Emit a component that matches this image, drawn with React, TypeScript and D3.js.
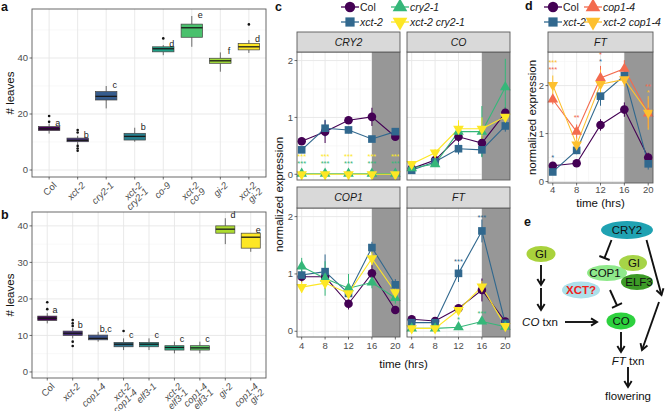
import React from 'react';
import * as d3 from 'd3';

const FONT = "'Liberation Sans', Arial, Helvetica, sans-serif";
const GRID = '#E6E6E6';
const GRID_MINOR = '#F3F3F3';
const BORDER = '#5A5A5A';
const TICKTXT = '#4D4D4D';

// ---------------- panel a ----------------
const catsA = ['Col', 'xct-2', 'cry2-1', 'xct-2 cry2-1', 'co-9', 'xct-2 co-9', 'gi-2', 'xct-2 gi-2'];
const lowA = [13, 9, 22, 10.1, 41, 44, 35.1, 41.8];
const q1A = [14.1, 10.1, 25, 10.7, 42.2, 47.4, 38.1, 42.9];
const medA = [14.7, 10.6, 26.3, 12, 43.3, 50.8, 39, 44];
const q3A = [15.5, 11.4, 28, 13.1, 44, 52.1, 39.9, 45.2];
const highA = [16.5, 12.2, 30, 15.1, 44.6, 55, 42, 46.4];
const outA = [[17.2, 19.3], [14.3, 13.4, 8.6, 7.7, 6.9], [], [], [47], [], [], [52]];
const letA = ['a', 'b', 'c', 'b', 'd', 'e', 'f', 'd'];
const ticksA = [0, 20, 40];
const minorA = [10, 30, 50];

// ---------------- panel b ----------------
const catsB = ['Col', 'xct-2', 'cop1-4', 'xct-2 cop1-4', 'elf3-1', 'xct-2 elf3-1', 'cop1-4 elf3-1', 'gi-2', 'cop1-4 gi-2'];
const lowB = [13.3, 9.2, 8.3, 6, 6, 5.1, 5.1, 35, 32.9];
const q1B = [14.1, 10, 8.8, 6.9, 6.9, 6.0, 6.0, 38, 33.9];
const medB = [14.7, 10.6, 9.2, 7.6, 7.6, 6.7, 6.6, 39.1, 36.9];
const q3B = [15.3, 11.2, 10.1, 8.1, 8.1, 7.2, 7.2, 40, 38];
const highB = [16.1, 12.1, 11, 9.2, 9.2, 8.3, 8.3, 42.1, 38];
const outB = [[17.2, 19.1], [14.2, 13.3, 12.6, 8.3, 7.1], [], [11.2], [], [], [], [], []];
const letB = ['a', 'b', 'b,c', 'c', 'c', 'c', 'c', 'd', 'e'];
const ticksB = [0, 10, 20, 30, 40];
const minorB = [5, 15, 25, 35];

// ---------------- panel c / d ----------------
const times = [4, 8, 12, 16, 20];
const minorT = [6, 10, 14, 18];
const genoC = ['Col', 'xct-2', 'cry2-1', 'xct-2 cry2-1'];
const genoD = ['Col', 'xct-2', 'cop1-4', 'xct-2 cop1-4'];
const colorsC = ['#440154', '#31688E', '#35B779', '#FDE725'];
const colorsD = ['#440154', '#31688E', '#F36B4E', '#FDC02F'];
const shapes = ['circle', 'square', 'triangle', 'triangleDown'];

// CRY2
const cry2Col = [0.58, 0.75, 0.95, 1.01, 0.66];
const cry2Xct = [0.43, 0.81, 0.78, 0.62, 0.75];
const cry2Cry = [0.01, 0.01, 0.01, 0.01, 0.01];
const cry2Dbl = [0.0, 0.0, 0.0, 0.0, 0.0];
const cry2ColSe = [0.06, 0.2, 0.06, 0.16, 0.06];
const cry2XctSe = [0.05, 0.15, 0.06, 0.04, 0.05];
const cry2CrySe = [0.01, 0.01, 0.01, 0.01, 0.01];
const cry2DblSe = [0.01, 0.01, 0.01, 0.01, 0.01];
// CO
const coCol = [0.1, 0.25, 0.66, 0.55, 1.08];
const coXct = [0.07, 0.22, 0.45, 0.43, 0.85];
const coCry = [0.11, 0.18, 0.75, 0.75, 1.53];
const coDbl = [0.18, 0.38, 0.8, 0.8, 1.01];
const coColSe = [0.03, 0.05, 0.1, 0.12, 0.1];
const coXctSe = [0.03, 0.05, 0.1, 0.12, 0.1];
const coCrySe = [0.03, 0.05, 0.12, 0.45, 0.5];
const coDblSe = [0.05, 0.06, 0.15, 0.2, 0.12];
// COP1
const cop1Col = [0.95, 0.95, 0.48, 1.01, 0.37];
const cop1Xct = [0.98, 1.04, 0.66, 1.46, 0.81];
const cop1Cry = [1.13, 0.92, 0.75, 0.85, 0.58];
const cop1Dbl = [0.77, 0.84, 0.66, 1.27, 0.68];
const cop1ColSe = [0.1, 0.1, 0.1, 0.15, 0.05];
const cop1XctSe = [0.1, 0.3, 0.15, 0.1, 0.1];
const cop1CrySe = [0.15, 0.3, 0.25, 0.1, 0.1];
const cop1DblSe = [0.1, 0.1, 0.1, 0.12, 0.1];
// FT (panel c)
const ftCol = [0.21, 0.18, 0.4, 0.72, 0.17];
const ftXct = [0.15, 0.15, 1.01, 1.75, 0.14];
const ftCry = [0.05, 0.05, 0.07, 0.17, 0.08];
const ftDbl = [0.05, 0.05, 0.37, 0.78, 0.09];
const ftColSe = [0.03, 0.03, 0.05, 0.2, 0.05];
const ftXctSe = [0.03, 0.03, 0.15, 0.2, 0.05];
const ftCrySe = [0.02, 0.02, 0.02, 0.04, 0.02];
const ftDblSe = [0.02, 0.02, 0.08, 0.1, 0.03];
// FT (panel d)
const ftdCol = [0.33, 0.38, 1.18, 1.5, 0.5];
const ftdXct = [0.2, 0.65, 1.78, 2.21, 0.37];
const ftdCop = [1.71, 1.04, 2.16, 2.35, 1.42];
const ftdDbl = [2.01, 0.77, 2.03, 2.13, 1.43];
const ftdColSe = [0.06, 0.05, 0.12, 0.15, 0.1];
const ftdXctSe = [0.06, 0.08, 0.2, 0.15, 0.12];
const ftdCopSe = [0.1, 0.15, 0.25, 0.18, 0.3];
const ftdDblSe = [0.2, 0.15, 0.3, 0.15, 0.35];

// significance labels: [series index, time, y value, text]
const starsCRY2: [number, number, number, string][] = [
  ...times.map((t) => [3, t, 0.33, '***'] as [number, number, number, string]),
  ...times.map((t) => [2, t, 0.2, '***'] as [number, number, number, string]),
];
const starsFT: [number, number, number, string][] = [
  [1, 12, 1.24, '***'], [1, 16, 2.01, '***'], [2, 16, 0.33, '***'], [2, 12, 0.23, '*'],
];
const starsD: [number, number, number, string][] = [
  [3, 4, 2.5, '***'], [2, 4, 2.35, '***'], [1, 4, 0.52, '*'], [2, 8, 1.35, '**'],
  [2, 12, 2.66, '*'], [1, 12, 2.53, '*'], [2, 20, 2.0, '**'], [3, 20, 1.88, '*'],
];

const isItalic = (s: string) => s !== 'Col';

function symPath(shape: string, size: number) {
  const type = shape === 'circle' ? d3.symbolCircle : shape === 'square' ? d3.symbolSquare : d3.symbolTriangle;
  return d3.symbol().type(type).size(size)() as string;
}

function Sym({ shape, x, y, size, fill }: { shape: string; x: number; y: number; size: number; fill: string }) {
  const rot = shape === 'triangleDown' ? ' rotate(180)' : '';
  const s = shape.startsWith('tri') ? size * 0.85 : size;
  return <path d={symPath(shape, s)} transform={`translate(${x},${y})${rot}`} fill={fill} />;
}

type BoxProps = {
  cats: string[]; low: number[]; q1: number[]; med: number[]; q3: number[]; high: number[];
  outs: number[][]; letters: string[]; left: number; right: number; top: number; bottom: number;
  domain: [number, number]; ticks: number[]; minor: number[]; tag: string; tagY: number; letOff: number;
};

function BoxPanel(p: BoxProps) {
  const x = d3.scalePoint<string>().domain(p.cats).range([p.left, p.right]).padding(0.6);
  const y = d3.scaleLinear().domain(p.domain).range([p.bottom, p.top]);
  const step = x.step();
  const hw = step * 0.375;
  const colors = d3.quantize(d3.interpolateViridis, p.cats.length);
  return (
    <g>
      <rect x={p.left} y={p.top} width={p.right - p.left} height={p.bottom - p.top} fill="white" />
      {p.minor.map((v) => (
        <line key={'mn' + v} x1={p.left} x2={p.right} y1={y(v)} y2={y(v)} stroke={GRID_MINOR} strokeWidth={0.6} />
      ))}
      {p.ticks.map((v) => (
        <line key={'mj' + v} x1={p.left} x2={p.right} y1={y(v)} y2={y(v)} stroke={GRID} strokeWidth={0.9} />
      ))}
      {p.cats.map((c) => (
        <line key={'vg' + c} x1={x(c)} x2={x(c)} y1={p.top} y2={p.bottom} stroke={GRID} strokeWidth={0.9} />
      ))}
      {p.cats.map((c, i) => {
        const cx = x(c) as number;
        return (
          <g key={'bx' + c}>
            <line x1={cx} x2={cx} y1={y(p.high[i])} y2={y(p.q3[i])} stroke="#333" strokeWidth={0.7} />
            <line x1={cx} x2={cx} y1={y(p.q1[i])} y2={y(p.low[i])} stroke="#333" strokeWidth={0.7} />
            <rect x={cx - hw} y={y(p.q3[i])} width={2 * hw} height={y(p.q1[i]) - y(p.q3[i])}
              fill={colors[i]} stroke="#444" strokeWidth={0.7} />
            <line x1={cx - hw} x2={cx + hw} y1={y(p.med[i])} y2={y(p.med[i])} stroke="#1a1a1a" strokeWidth={1.3} />
            {p.outs[i].map((o, j) => (
              <circle key={j} cx={cx} cy={y(o)} r={1.3} fill="#111" />
            ))}
            <text x={cx + step * 0.3} y={y(p.high[i] + p.letOff) + 3} fontSize={9} textAnchor="middle" fill="#1a1a1a">
              {p.letters[i]}
            </text>
          </g>
        );
      })}
      <rect x={p.left} y={p.top} width={p.right - p.left} height={p.bottom - p.top} fill="none" stroke={BORDER} strokeWidth={0.9} />
      {p.ticks.map((v) => (
        <g key={'yt' + v}>
          <line x1={p.left - 2.5} x2={p.left} y1={y(v)} y2={y(v)} stroke="#333" strokeWidth={0.7} />
          <text x={p.left - 4} y={y(v) + 3.2} fontSize={9.5} textAnchor="end" fill={TICKTXT}>{v}</text>
        </g>
      ))}
      {p.cats.map((c) => {
        const cx = x(c) as number;
        const lines = c.split(' ');
        return (
          <g key={'xt' + c}>
            <line x1={cx} x2={cx} y1={p.bottom} y2={p.bottom + 2.5} stroke="#333" strokeWidth={0.7} />
            <text transform={`translate(${cx + 3},${p.bottom + 4}) rotate(-45)`} fontSize={9.5} textAnchor="end"
              fill={TICKTXT} fontStyle={isItalic(c) ? 'italic' : 'normal'}>
              {lines.map((l, k) => (
                <tspan key={k} x={0} dy={k === 0 ? '0.75em' : '0.9em'}>{l}</tspan>
              ))}
            </text>
          </g>
        );
      })}
      <text transform={`translate(14,${(p.top + p.bottom) / 2}) rotate(-90)`} fontSize={11.5} textAnchor="middle" fill="#111"># leaves</text>
      <text x={1} y={p.tagY} fontSize={12.5} fontWeight="bold" fill="#111">{p.tag}</text>
    </g>
  );
}

type LineProps = {
  left: number; right: number; stripTop: number; top: number; bottom: number; title: string;
  means: number[][]; ses: number[][]; colors: string[]; stars: [number, number, number, string][];
  yDomain: [number, number]; yTicks: number[]; yMinor: number[]; showY: boolean; showX: boolean; xLabOff: number;
};

function LinePanel(p: LineProps) {
  const x = d3.scaleLinear().domain([3.2, 20.8]).range([p.left, p.right]);
  const y = d3.scaleLinear().domain(p.yDomain).range([p.bottom, p.top]);
  const line = d3.line<number>().x((_, i) => x(times[i])).y((d) => y(d));
  return (
    <g>
      <rect x={p.left} y={p.top} width={p.right - p.left} height={p.bottom - p.top} fill="white" />
      {minorT.map((v) => (
        <line key={'xm' + v} x1={x(v)} x2={x(v)} y1={p.top} y2={p.bottom} stroke={GRID_MINOR} strokeWidth={0.6} />
      ))}
      {p.yMinor.map((v) => (
        <line key={'ym' + v} x1={p.left} x2={p.right} y1={y(v)} y2={y(v)} stroke={GRID_MINOR} strokeWidth={0.6} />
      ))}
      {times.map((v) => (
        <line key={'xg' + v} x1={x(v)} x2={x(v)} y1={p.top} y2={p.bottom} stroke={GRID} strokeWidth={0.9} />
      ))}
      {p.yTicks.map((v) => (
        <line key={'yg' + v} x1={p.left} x2={p.right} y1={y(v)} y2={y(v)} stroke={GRID} strokeWidth={0.9} />
      ))}
      <rect x={x(16)} y={p.top} width={p.right - x(16)} height={p.bottom - p.top} fill="#979797" />
      {p.means.map((m, si) => (
        <g key={'eb' + si}>
          {m.map((v, i) => (
            <line key={i} x1={x(times[i])} x2={x(times[i])} y1={y(v - p.ses[si][i])} y2={y(v + p.ses[si][i])}
              stroke={p.colors[si]} strokeWidth={1} />
          ))}
        </g>
      ))}
      {p.means.map((m, si) => (
        <path key={'ln' + si} d={line(m) as string} fill="none" stroke={p.colors[si]} strokeWidth={1.1} />
      ))}
      {p.means.map((m, si) => (
        <g key={'pt' + si}>
          {m.map((v, i) => (
            <Sym key={i} shape={shapes[si]} x={x(times[i])} y={y(v)} size={58} fill={p.colors[si]} />
          ))}
        </g>
      ))}
      {p.stars.map(([si, t, v, s], k) => (
        <text key={'st' + k} x={x(t)} y={y(v) + 3.5} fontSize={7.5} textAnchor="middle" fill={p.colors[si]}>{s}</text>
      ))}
      <rect x={p.left} y={p.top} width={p.right - p.left} height={p.bottom - p.top} fill="none" stroke={BORDER} strokeWidth={0.9} />
      <rect x={p.left} y={p.stripTop} width={p.right - p.left} height={p.top - p.stripTop} fill="#D9D9D9" stroke={BORDER} strokeWidth={0.9} />
      <text x={(p.left + p.right) / 2} y={(p.stripTop + p.top) / 2 + 3.8} fontSize={10.5} fontStyle="italic" textAnchor="middle" fill="#1a1a1a">{p.title}</text>
      {p.showY && p.yTicks.map((v) => (
        <g key={'yt' + v}>
          <line x1={p.left - 2.5} x2={p.left} y1={y(v)} y2={y(v)} stroke="#333" strokeWidth={0.7} />
          <text x={p.left - 4} y={y(v) + 3.2} fontSize={9.5} textAnchor="end" fill={TICKTXT}>{v}</text>
        </g>
      ))}
      {p.showX && times.map((v) => (
        <g key={'xt' + v}>
          <line x1={x(v)} x2={x(v)} y1={p.bottom} y2={p.bottom + 2.5} stroke="#333" strokeWidth={0.7} />
          <text x={x(v)} y={p.bottom + p.xLabOff} fontSize={9.5} textAnchor="middle" fill={TICKTXT}>{v}</text>
        </g>
      ))}
    </g>
  );
}

function Legend({ x1, x2, y1, y2, names, colors }: { x1: number; x2: number; y1: number; y2: number; names: string[]; colors: string[] }) {
  const pos = [[x1, y1], [x1, y2], [x2, y1], [x2, y2]];
  return (
    <g>
      {names.map((n, i) => {
        const [px, py] = pos[i];
        return (
          <g key={n}>
            <line x1={px - 9} x2={px + 9} y1={py} y2={py} stroke={colors[i]} strokeWidth={1.3} />
            <Sym shape={shapes[i]} x={px} y={py} size={i < 2 ? 85 : 110} fill={colors[i]} />
            <text x={px + 10} y={py + 3.8} fontSize={10.5} fontStyle={isItalic(n) ? 'italic' : 'normal'} fill="#1a1a1a">{n}</text>
          </g>
        );
      })}
    </g>
  );
}

function Arrow({ x1, y1, x2, y2 }: { x1: number; y1: number; x2: number; y2: number }) {
  const a = Math.atan2(y2 - y1, x2 - x1);
  const h = 7;
  const w = 0.55;
  const p1 = [x2 - h * Math.cos(a - w), y2 - h * Math.sin(a - w)];
  const p2 = [x2 - h * Math.cos(a + w), y2 - h * Math.sin(a + w)];
  return (
    <g stroke="#111" strokeWidth={1.9} fill="none" strokeLinecap="butt">
      <line x1={x1} y1={y1} x2={x2} y2={y2} />
      <path d={`M${p1[0]},${p1[1]} L${x2},${y2} L${p2[0]},${p2[1]}`} strokeLinejoin="miter" />
    </g>
  );
}

function TBar({ x1, y1, x2, y2 }: { x1: number; y1: number; x2: number; y2: number }) {
  const a = Math.atan2(y2 - y1, x2 - x1);
  const h = 5.5;
  const px = -Math.sin(a) * h, py = Math.cos(a) * h;
  return (
    <g stroke="#111" strokeWidth={1.9}>
      <line x1={x1} y1={y1} x2={x2} y2={y2} />
      <line x1={x2 - px} y1={y2 - py} x2={x2 + px} y2={y2 + py} />
    </g>
  );
}

function Diagram() {
  return (
    <g fontSize={11.5} fill="#111">
      <text x={524} y={226} fontSize={12.5} fontWeight="bold">e</text>
      <ellipse cx={627} cy={230} rx={26} ry={9} fill="#1FA2B2" />
      <ellipse cx={541} cy={254} rx={14.5} ry={8} fill="#A9D23C" />
      <ellipse cx={607} cy={273} rx={20} ry={8} fill="#8FE98B" />
      <ellipse cx={633} cy={263} rx={14} ry={8} fill="#A6D447" />
      <ellipse cx={637} cy={282} rx={16} ry={8} fill="#3D9B27" />
      <ellipse cx={581} cy={290} rx={19} ry={8.5} fill="#ACE0EA" />
      <ellipse cx={621} cy={321} rx={14.5} ry={8.5} fill="#2DD13E" />
      <text x={627} y={234} textAnchor="middle">CRY2</text>
      <text x={541} y={258} textAnchor="middle">GI</text>
      <text x={605} y={277} textAnchor="middle">COP1</text>
      <text x={634} y={267} textAnchor="middle">GI</text>
      <text x={639} y={286} textAnchor="middle">ELF3</text>
      <text x={581} y={294} textAnchor="middle" fill="#F0221B" fontWeight="bold">XCT?</text>
      <text x={621} y={325} textAnchor="middle">CO</text>
      <Arrow x1={541} y1={265} x2={541} y2={285} />
      <Arrow x1={541} y1={288} x2={541} y2={310} />
      <text x={540} y={326} textAnchor="middle"><tspan fontStyle="italic">CO</tspan> txn</text>
      <Arrow x1={565} y1={322} x2={597} y2={322} />
      <TBar x1={611.5} y1={240} x2={604.5} y2={258} />
      <TBar x1={610} y1={290} x2={617} y2={305.5} />
      <Arrow x1={646.5} y1={240} x2={661.5} y2={295} />
      <Arrow x1={659} y1={302} x2={642} y2={350} />
      <Arrow x1={621} y1={332} x2={621} y2={352} />
      <text x={628} y={365} textAnchor="middle"><tspan fontStyle="italic">FT</tspan> txn</text>
      <Arrow x1={628} y1={367} x2={628} y2={387} />
      <text x={628} y={400} textAnchor="middle">flowering</text>
    </g>
  );
}

export default function App() {
  const cTop = { stripTop: 32, top: 52, bottom: 180 };
  const cBot = { stripTop: 187, top: 208, bottom: 337 };
  const colL = { left: 297, right: 400 };
  const colR = { left: 407, right: 510 };
  const yDomC: [number, number] = [-0.1, 2.15];
  return (
    <svg width={667} height={411} style={{ position: 'absolute', left: 0, top: 0, fontFamily: FONT }}>
      <rect width={667} height={411} fill="white" />
      <BoxPanel cats={catsA} low={lowA} q1={q1A} med={medA} q3={q3A} high={highA} outs={outA} letters={letA}
        left={32} right={266} top={9} bottom={177} domain={[-2.5, 57.5]} ticks={ticksA} minor={minorA} tag="a" tagY={11} letOff={0.4} />
      <BoxPanel cats={catsB} low={lowB} q1={q1B} med={medB} q3={q3B} high={highB} outs={outB} letters={letB}
        left={32} right={266} top={212} bottom={378} domain={[-1.65, 43.8]} ticks={ticksB} minor={minorB} tag="b" tagY={219} letOff={0.8} />

      {/* panel c */}
      <text x={275} y={10.5} fontSize={12.5} fontWeight="bold" fill="#111">c</text>
      <Legend x1={350} x2={400} y1={7} y2={22} names={genoC} colors={colorsC} />
      <LinePanel {...colL} {...cTop} title="CRY2" means={[cry2Col, cry2Xct, cry2Cry, cry2Dbl]}
        ses={[cry2ColSe, cry2XctSe, cry2CrySe, cry2DblSe]} colors={colorsC} stars={starsCRY2}
        yDomain={yDomC} yTicks={[0, 1, 2]} yMinor={[0.5, 1.5]} showY={true} showX={false} xLabOff={12} />
      <LinePanel {...colR} {...cTop} title="CO" means={[coCol, coXct, coCry, coDbl]}
        ses={[coColSe, coXctSe, coCrySe, coDblSe]} colors={colorsC} stars={[]}
        yDomain={yDomC} yTicks={[0, 1, 2]} yMinor={[0.5, 1.5]} showY={false} showX={false} xLabOff={12} />
      <LinePanel {...colL} {...cBot} title="COP1" means={[cop1Col, cop1Xct, cop1Cry, cop1Dbl]}
        ses={[cop1ColSe, cop1XctSe, cop1CrySe, cop1DblSe]} colors={colorsC} stars={[]}
        yDomain={yDomC} yTicks={[0, 1, 2]} yMinor={[0.5, 1.5]} showY={true} showX={true} xLabOff={12} />
      <LinePanel {...colR} {...cBot} title="FT" means={[ftCol, ftXct, ftCry, ftDbl]}
        ses={[ftColSe, ftXctSe, ftCrySe, ftDblSe]} colors={colorsC} stars={starsFT}
        yDomain={yDomC} yTicks={[0, 1, 2]} yMinor={[0.5, 1.5]} showY={false} showX={true} xLabOff={12} />
      <text transform="translate(283,194.5) rotate(-90)" fontSize={11.5} textAnchor="middle" fill="#111">normalized expression</text>
      <text x={403.5} y={367.5} fontSize={11.5} textAnchor="middle" fill="#111">time (hrs)</text>

      {/* panel d */}
      <text x={525} y={10} fontSize={12.5} fontWeight="bold" fill="#111">d</text>
      <Legend x1={553} x2={593} y1={7} y2={22} names={genoD} colors={colorsD} />
      <LinePanel left={548} right={653} stripTop={32} top={52} bottom={183} title="FT"
        means={[ftdCol, ftdXct, ftdCop, ftdDbl]} ses={[ftdColSe, ftdXctSe, ftdCopSe, ftdDblSe]} colors={colorsD}
        stars={starsD} yDomain={[-0.03, 2.7]} yTicks={[0, 1, 2]} yMinor={[0.5, 1.5, 2.5]} showY={true} showX={true} xLabOff={10} />
      <text transform="translate(536,117.5) rotate(-90)" fontSize={11.5} textAnchor="middle" fill="#111">normalized expression</text>
      <text x={600.5} y={207} fontSize={11.5} textAnchor="middle" fill="#111">time (hrs)</text>

      <Diagram />
    </svg>
  );
}
